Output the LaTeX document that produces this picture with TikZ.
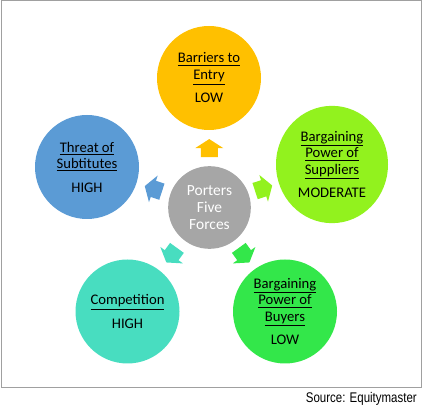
\documentclass[tikz,border=0pt]{standalone}
\usepackage{fontspec}
\setmainfont{Carlito}
\newfontfamily\srcfont[FakeStretch=0.82]{Liberation Sans}
\usepackage{xcolor}
\usetikzlibrary{shapes.geometric,calc}
\definecolor{entrycol}{RGB}{255, 192, 0}
\definecolor{substcol}{RGB}{91, 155, 213}
\definecolor{suppcol}{RGB}{146, 242, 30}
\definecolor{compcol}{RGB}{72, 221, 192}
\definecolor{buycol}{RGB}{51, 231, 74}
\definecolor{corecol}{RGB}{166, 166, 166}
\definecolor{framegray}{RGB}{160, 160, 160}

\begin{document}
\begin{tikzpicture}[
  x=0.75pt, y=-0.75pt,
  force/.style={circle, draw=none, minimum size=78pt, inner sep=0pt,
                align=center, font=\fontsize{11}{12.5}\selectfont},
  blkarr/.pic={\path[pic actions] (9,0) -- (0,14) -- (0,8.5) -- (-9,8.5)
                -- (-9,-8.5) -- (0,-8.5) -- (0,-14) -- cycle;}
]
\useasboundingbox (0,0) rectangle (422,409);
\draw[framegray, line width=0.75pt] (1,1) rectangle (421,388);

\node[force, fill=corecol, minimum size=62pt, text=white,
      font=\fontsize{11.6}{12.8}\selectfont] (core) at (209.5,207.5)
      {Porters\\Five\\Forces};

\node[force, fill=entrycol] (entry) at (209,78)
      {\underline{Barriers to}\\\underline{Entry}\\[5pt]LOW};
\node[force, fill=substcol] (subst) at (87,167)
      {\underline{Threat of}\\\underline{Subtitutes}\\[5pt]HIGH};
\node[force, ellipse, fill=suppcol, minimum width=84pt, minimum height=88pt]
      (supp) at (332,164.5)
      {\underline{Bargaining}\\\underline{Power of}\\\underline{Suppliers}\\[5pt]MODERATE};
\node[force, fill=compcol] (comp) at (127.5,311.5)
      {\underline{Competition}\\[5pt]HIGH};
\node[force, fill=buycol] (buyers) at (285,311.5)
      {\underline{Bargaining}\\\underline{Power of}\\\underline{Buyers}\\[5pt]LOW};

\pic[fill=entrycol, rotate=90] (toentry)
      at ($(core.90)!0.5!(entry.270)$) {blkarr};
\pic[fill=substcol, rotate=162] (tosubst)
      at ($(core.162)!0.5!(subst.342)$) {blkarr};
\pic[fill=suppcol, rotate=18] (tosupp)
      at ($(core.18)!0.5!(supp.198)$) {blkarr};
\pic[fill=compcol, rotate=234] (tocomp)
      at ($(core.234)!0.5!(comp.54)$) {blkarr};
\pic[fill=buycol, rotate=306] (tobuyers)
      at ($(core.306)!0.5!(buyers.126)$) {blkarr};

\node[anchor=base east, inner sep=0pt,
      font=\srcfont\fontsize{10.5}{12}\selectfont] (src) at (417,403)
      {Source: Equitymaster};
\end{tikzpicture}
\end{document}
